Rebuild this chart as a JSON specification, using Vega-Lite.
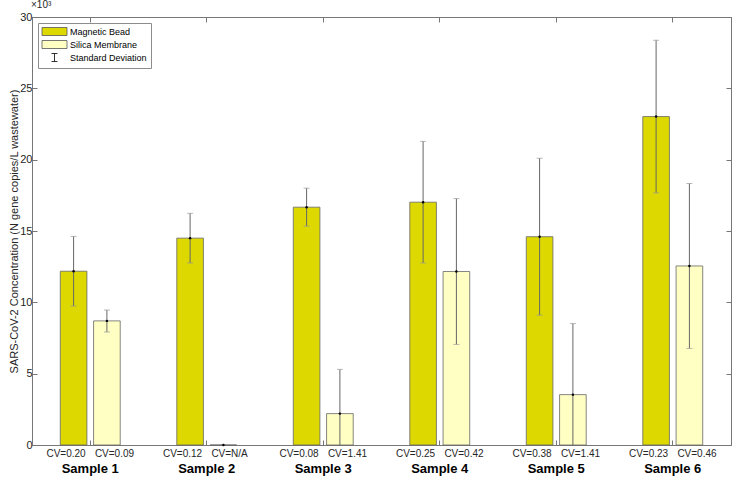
{
  "$schema": "https://vega.github.io/schema/vega-lite/v6.json",
  "width": 699,
  "height": 428,
  "autosize": {"type": "none"},
  "padding": {"left": 32, "top": 17, "right": 3, "bottom": 35},
  "background": "white",
  "config": {
    "font": "Liberation Sans",
    "view": {"stroke": "#777", "strokeWidth": 1},
    "axis": {"labelFont": "Liberation Sans", "titleFont": "Liberation Sans", "labelColor": "#262626", "titleColor": "#262626", "domainColor": "#777", "tickColor": "#777", "grid": false},
    "legend": {"orient": "none", "legendX": 6, "legendY": 6, "strokeColor": "#8c8c8c", "fillColor": "white", "padding": 4,
      "labelFontSize": 9, "labelFont": "Liberation Sans", "labelColor": "#000", "symbolOpacity": 1,
      "symbolSize": 64, "symbolStrokeWidth": 0.8, "rowPadding": 0, "labelOffset": 11, "symbolOffset": 8}
  },
  "data": {"values": [
    {"sample": "Sample 1", "method": "Magnetic Bead", "value": 12180, "lo": 9740, "hi": 14620, "cv": "CV=0.20"},
    {"sample": "Sample 1", "method": "Silica Membrane", "value": 8700, "lo": 7920, "hi": 9460, "cv": "CV=0.09"},
    {"sample": "Sample 2", "method": "Magnetic Bead", "value": 14500, "lo": 12760, "hi": 16240, "cv": "CV=0.12"},
    {"sample": "Sample 2", "method": "Silica Membrane", "value": 0, "lo": 0, "hi": 0, "cv": "CV=N/A"},
    {"sample": "Sample 3", "method": "Magnetic Bead", "value": 16670, "lo": 15340, "hi": 18000, "cv": "CV=0.08"},
    {"sample": "Sample 3", "method": "Silica Membrane", "value": 2200, "lo": -900, "hi": 5300, "cv": "CV=1.41"},
    {"sample": "Sample 4", "method": "Magnetic Bead", "value": 17020, "lo": 12760, "hi": 21280, "cv": "CV=0.25"},
    {"sample": "Sample 4", "method": "Silica Membrane", "value": 12160, "lo": 7050, "hi": 17270, "cv": "CV=0.42"},
    {"sample": "Sample 5", "method": "Magnetic Bead", "value": 14600, "lo": 9100, "hi": 20100, "cv": "CV=0.38"},
    {"sample": "Sample 5", "method": "Silica Membrane", "value": 3530, "lo": -1450, "hi": 8510, "cv": "CV=1.41"},
    {"sample": "Sample 6", "method": "Magnetic Bead", "value": 23020, "lo": 17670, "hi": 28370, "cv": "CV=0.23"},
    {"sample": "Sample 6", "method": "Silica Membrane", "value": 12550, "lo": 6770, "hi": 18330, "cv": "CV=0.46"}
  ]},
  "encoding": {
    "x": {"field": "sample", "type": "nominal", "sort": null, "scale": {"paddingInner": 0, "paddingOuter": 0}},
    "xOffset": {"field": "method", "type": "nominal", "sort": null, "scale": {"paddingInner": 0.2, "paddingOuter": 0.85}}
  },
  "layer": [
    {
      "title": {"text": "×10³", "anchor": "start", "frame": "group", "fontSize": 10, "fontWeight": "normal", "font": "Liberation Sans", "color": "#262626", "offset": 1, "dx": -1},
      "mark": {"type": "bar", "stroke": "#666", "strokeWidth": 0.8},
      "encoding": {
        "x": {"field": "sample", "type": "nominal", "sort": null, "title": null,
          "axis": {"orient": "bottom", "labelAngle": 0, "labelFontSize": 13, "labelFontWeight": "bold", "labelColor": "#000", "tickSize": -5, "labelPadding": 22, "domainColor": "#777"}},
        "y": {"field": "value", "type": "quantitative", "scale": {"domain": [0, 30000], "nice": false},
          "title": "SARS-CoV-2 Concentration (N gene copies/L wastewater)",
          "axis": {"orient": "left", "values": [0, 5000, 10000, 15000, 20000, 25000, 30000], "labelExpr": "datum.value / 1000", "labelFontSize": 11, "titleFontSize": 11, "titleFontWeight": "normal", "tickSize": -5, "labelPadding": 5, "titlePadding": 0}},
        "fill": {"field": "method", "type": "nominal", "title": null,
          "scale": {"domain": ["Magnetic Bead", "Silica Membrane", "Standard Deviation"], "range": ["#dcd800", "#ffffc4", "#ffffff"]}}
      }
    },
    {
      "mark": {"type": "rule", "color": "#666", "strokeWidth": 1, "clip": true},
      "encoding": {
        "y": {"field": "lo", "type": "quantitative", "axis": null},
        "y2": {"field": "hi"},
        "x": {"field": "sample", "type": "nominal", "sort": null, "axis": null}
      }
    },
    {
      "mark": {"type": "tick", "color": "#999", "thickness": 1, "size": 6, "orient": "horizontal", "clip": true},
      "encoding": {
        "y": {"field": "hi", "type": "quantitative", "axis": null},
        "x": {"field": "sample", "type": "nominal", "sort": null, "axis": null}
      }
    },
    {
      "mark": {"type": "tick", "color": "#999", "thickness": 1, "size": 6, "orient": "horizontal", "clip": true},
      "encoding": {
        "y": {"field": "lo", "type": "quantitative", "axis": null},
        "x": {"field": "sample", "type": "nominal", "sort": null, "axis": null}
      }
    },
    {
      "mark": {"type": "point", "filled": true, "color": "#000", "size": 6, "opacity": 1},
      "encoding": {
        "y": {"field": "value", "type": "quantitative", "axis": null},
        "x": {"field": "sample", "type": "nominal", "sort": null, "axis": null}
      }
    },
    {
      "transform": [{"filter": "datum.method === 'Magnetic Bead'"}],
      "mark": {"type": "text", "fontSize": 10, "font": "Liberation Sans", "color": "#262626", "baseline": "middle", "align": "right", "dx": 12, "dy": 9},
      "encoding": {
        "y": {"datum": 0, "type": "quantitative", "axis": null},
        "x": {"field": "sample", "type": "nominal", "sort": null, "axis": null},
        "text": {"field": "cv"}
      }
    },
    {
      "transform": [{"filter": "datum.method === 'Silica Membrane'"}],
      "mark": {"type": "text", "fontSize": 10, "font": "Liberation Sans", "color": "#262626", "baseline": "middle", "align": "left", "dx": -12, "dy": 9},
      "encoding": {
        "y": {"datum": 0, "type": "quantitative", "axis": null},
        "x": {"field": "sample", "type": "nominal", "sort": null, "axis": null},
        "text": {"field": "cv"}
      }
    },
    {
      "mark": {"type": "point", "filled": true, "opacity": 0},
      "encoding": {
        "y": {"field": "value", "type": "quantitative", "axis": {"orient": "right", "title": null, "labels": false, "tickSize": -5, "values": [0, 5000, 10000, 15000, 20000, 25000, 30000]}},
        "x": {"field": "sample", "type": "nominal", "sort": null, "axis": {"orient": "top", "title": null, "labels": false, "tickSize": -5}},
        "fill": {"field": "method", "type": "nominal", "title": null},
        "stroke": {"field": "method", "type": "nominal", "title": null,
          "scale": {"domain": ["Magnetic Bead", "Silica Membrane", "Standard Deviation"], "range": ["#555555", "#555555", "#000000"]}},
        "shape": {"field": "method", "type": "nominal", "title": null,
          "scale": {"domain": ["Magnetic Bead", "Silica Membrane", "Standard Deviation"], "range": ["M-3.125,-1H3.125V1H-3.125Z", "M-3.125,-1H3.125V1H-3.125Z", "M-0.75,-1H0.75M0,-1V1M-0.75,1H0.75"]}}
      }
    }
  ],
  "resolve": {"axis": {"x": "independent", "y": "independent"}}
}
